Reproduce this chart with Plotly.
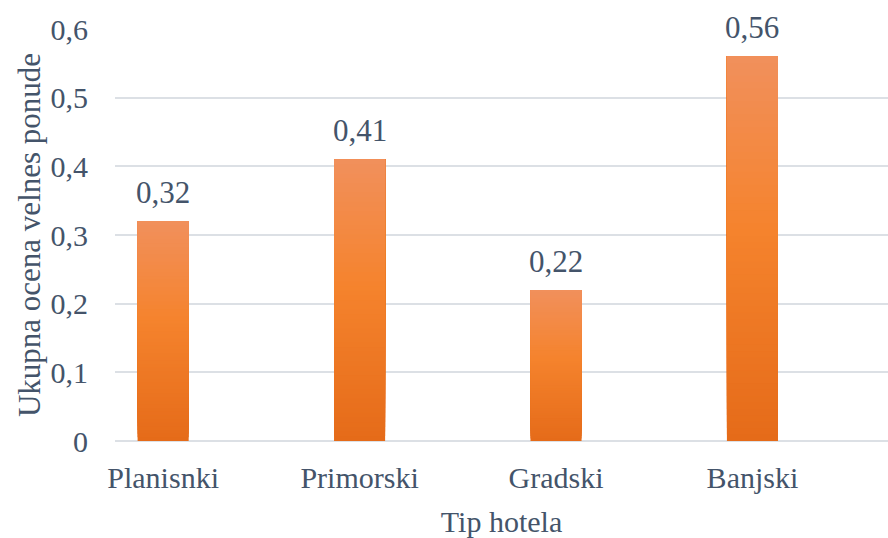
import plotly.graph_objects as go

# Hotel types and their overall wellness offer score
categories = ["Planisnki", "Primorski", "Gradski", "Banjski"]
scores = [0.32, 0.41, 0.22, 0.56]
y_ticks = [0, 0.1, 0.2, 0.3, 0.4, 0.5, 0.6]

FONT = "Times New Roman, Liberation Serif, DejaVu Serif, serif"
TEXT = "#44546A"
GRID = "#DCE0E5"
N_SEG = 60
BAR_W = 0.26

# vertical gradient stops (fraction from bar bottom -> rgb)
stops = [(0.0, (229, 107, 25)), (0.55, (245, 131, 45)), (1.0, (241, 144, 92))]


def grad(f):
    for (f0, c0), (f1, c1) in zip(stops[:-1], stops[1:]):
        if f <= f1:
            t = (f - f0) / (f1 - f0)
            return "rgb({},{},{})".format(*[round(a + (b - a) * t) for a, b in zip(c0, c1)])
    return "rgb({},{},{})".format(*stops[-1][1])


xs = list(range(len(categories)))
fig = go.Figure()

# each bar is painted as overlapping layers, each running from its own
# start height up to the bar top, so the shading has no seams
for i in range(N_SEG):
    lo = i / N_SEG
    fig.add_trace(go.Bar(
        x=xs,
        base=[v * lo for v in scores],
        y=[v * (1 - lo) for v in scores],
        width=BAR_W,
        marker=dict(color=grad(lo + 0.5 / N_SEG), line=dict(width=0)),
        hoverinfo="skip",
        showlegend=False,
    ))

# value labels above the bars
for x, v in zip(xs, scores):
    fig.add_annotation(
        x=x, y=v, text=f"{v:.2f}".replace(".", ","),
        showarrow=False, yanchor="bottom", yshift=9,
        font=dict(family=FONT, size=31, color=TEXT),
    )

fig.update_layout(
    width=888,
    height=538,
    barmode="overlay",
    separators=", ",
    plot_bgcolor="white",
    paper_bgcolor="white",
    margin=dict(l=115, r=0, t=29, b=97),
    font=dict(family=FONT, color=TEXT),
    xaxis=dict(
        range=[-0.245, 3.69],
        tickvals=xs,
        ticktext=categories,
        showgrid=False,
        zeroline=False,
        showline=False,
        ticks="",
        tickfont=dict(family=FONT, size=30, color=TEXT),
        ticklabelstandoff=16,
        title=dict(text="Tip hotela", font=dict(family=FONT, size=30, color=TEXT), standoff=18),
    ),
    yaxis=dict(
        range=[0, 0.6],
        tickvals=y_ticks,
        showgrid=True,
        gridcolor=GRID,
        gridwidth=1.5,
        zeroline=True,
        zerolinecolor=GRID,
        zerolinewidth=1.5,
        showline=False,
        ticks="",
        tickfont=dict(family=FONT, size=30, color=TEXT),
        ticklabelstandoff=26,
        title=dict(text="Ukupna ocena velnes ponude", font=dict(family=FONT, size=31, color=TEXT), standoff=0),
    ),
)

fig.write_html("out.html")
